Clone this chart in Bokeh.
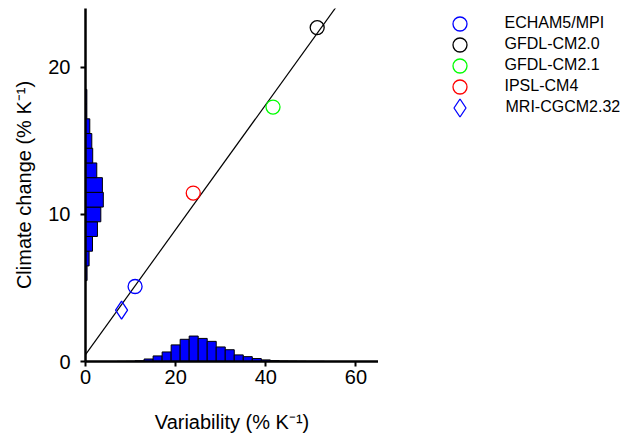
from bokeh.plotting import figure
from bokeh.layouts import row
from bokeh.models import Range1d, FixedTicker, Legend, LegendItem
from bokeh.embed import file_html
from bokeh.resources import INLINE

# ---- data ----
models = ["ECHAM5/MPI", "GFDL-CM2.0", "GFDL-CM2.1", "IPSL-CM4", "MRI-CGCM2.32"]
variability = [11.0, 51.4, 41.6, 23.9, 8.0]
climate_change = [5.1, 22.7, 17.3, 11.45, 3.5]
model_colors = ["#0000ff", "#000000", "#00ff00", "#ff0000", "#0000ff"]
model_markers = ["circle", "circle", "circle", "circle", "diamond"]

# histogram of variability (bin centres, width 2)
var_bins = [8, 10, 12, 14, 16, 18, 20, 22, 24, 26, 28, 30, 32, 34, 36, 38, 40, 42, 44, 46, 48, 50, 52]
var_counts = [0.01, 0.02, 0.05, 0.17, 0.38, 0.65, 1.13, 1.51, 1.73, 1.57, 1.37, 0.99, 0.8, 0.45,
              0.33, 0.2, 0.11, 0.06, 0.04, 0.03, 0.02, 0.01, 0.01]

# histogram of climate change (bin centres, width 1)
cc_bins = [6, 7, 8, 9, 10, 11, 12, 13, 14, 15, 16, 17, 18]
cc_counts = [0.35, 0.8, 1.55, 2.65, 3.4, 3.95, 3.75, 2.5, 1.6, 1.4, 0.95, 0.3, 0.3]

fit_slope = 0.425
fit_intercept = 0.47
fit_x = [0, 60]

x_ticks = [0, 20, 40, 60]
y_ticks = [0, 10, 20]

FONT = "Liberation Sans"

H = 436
LEFT, TOP, BOTTOM = 85, 8, 75
W1 = 378          # main figure (frame right edge at 378)
W2 = 242          # legend panel

p = figure(width=W1, height=H, x_range=Range1d(0, 65), y_range=Range1d(0, 24),
           output_backend="svg", toolbar_location=None,
           min_border_left=LEFT, min_border_right=0,
           min_border_top=TOP, min_border_bottom=BOTTOM)
p.outline_line_color = None
p.grid.visible = False

p.vbar(x=var_bins, width=2, top=var_counts, bottom=0,
       fill_color="#0000ff", line_color="black", line_width=1)
p.hbar(y=cc_bins, height=1, right=cc_counts, left=0,
       fill_color="#0000ff", line_color="black", line_width=1)

p.line(x=fit_x, y=[fit_intercept + fit_slope * x for x in fit_x], line_color="black", line_width=1.2)

for name, vx, cy, col, mk in zip(models, variability, climate_change, model_colors, model_markers):
    size = 18 if mk == "diamond" else 14
    p.scatter(x=[vx], y=[cy], marker=mk, size=size, fill_color=None,
              line_color=col, line_width=1.3)

for ax in (p.xaxis[0], p.yaxis[0]):
    ax.axis_line_width = 2.5
    ax.axis_line_color = "black"
    ax.major_tick_line_width = 2
    ax.major_tick_line_color = "black"
    ax.major_tick_out = 5
    ax.major_tick_in = 0
    ax.minor_tick_out = 0
    ax.minor_tick_in = 0
    ax.major_label_text_font = FONT
    ax.major_label_text_font_size = "20px"
    ax.major_label_text_color = "black"
    ax.axis_label_text_font = FONT
    ax.axis_label_text_font_size = "20px"
    ax.axis_label_text_font_style = "normal"
    ax.axis_label_text_color = "black"

p.xaxis.ticker = FixedTicker(ticks=x_ticks)
p.yaxis.ticker = FixedTicker(ticks=y_ticks)
p.xaxis.axis_label = "Variability (% K⁻¹)"
p.yaxis.axis_label = "Climate change (% K⁻¹)"
p.xaxis.major_label_standoff = 3
p.yaxis.major_label_standoff = 10
p.xaxis.axis_label_standoff = 24
p.yaxis.axis_label_standoff = 10

# ---- legend panel to the right (frame aligned with the main plot) ----
q = figure(width=W2, height=H, x_range=Range1d(0, 1), y_range=Range1d(0, 1),
           output_backend="svg", toolbar_location=None,
           x_axis_type=None, y_axis_type=None,
           min_border_left=0, min_border_right=0, min_border_top=TOP, min_border_bottom=BOTTOM)
q.outline_line_color = None
q.grid.visible = False

frame_bottom = H - BOTTOM
leg_cx = 459 - W1      # marker centre (px, within legend panel)
leg_text_x = 505 - W1  # label start
leg_rows = [23, 44, 65, 86, 107]

for i, (name, vx, cy, col, mk) in enumerate(zip(models, variability, climate_change, model_colors, model_markers)):
    size = 18 if mk == "diamond" else 14
    r = q.scatter(x=[vx], y=[cy], marker=mk, size=size, fill_color=None,
                  line_color=col, line_width=1.3, visible=False)
    box = size / 0.4
    row_y = leg_rows[i]
    lg = Legend(items=[LegendItem(label=name, renderers=[r])],
                location=(leg_cx - box / 2, frame_bottom - (row_y + box / 2)),
                glyph_width=int(box), glyph_height=int(box), label_height=16,
                label_standoff=int(round(leg_text_x - leg_cx - box / 2)),
                spacing=0, padding=0, margin=0,
                border_line_color=None, background_fill_alpha=0,
                inactive_fill_alpha=0,
                label_text_font=FONT, label_text_font_size="16px", label_text_color="black")
    q.add_layout(lg)

layout = row(p, q)
open("out.html", "w").write(file_html(layout, INLINE))
